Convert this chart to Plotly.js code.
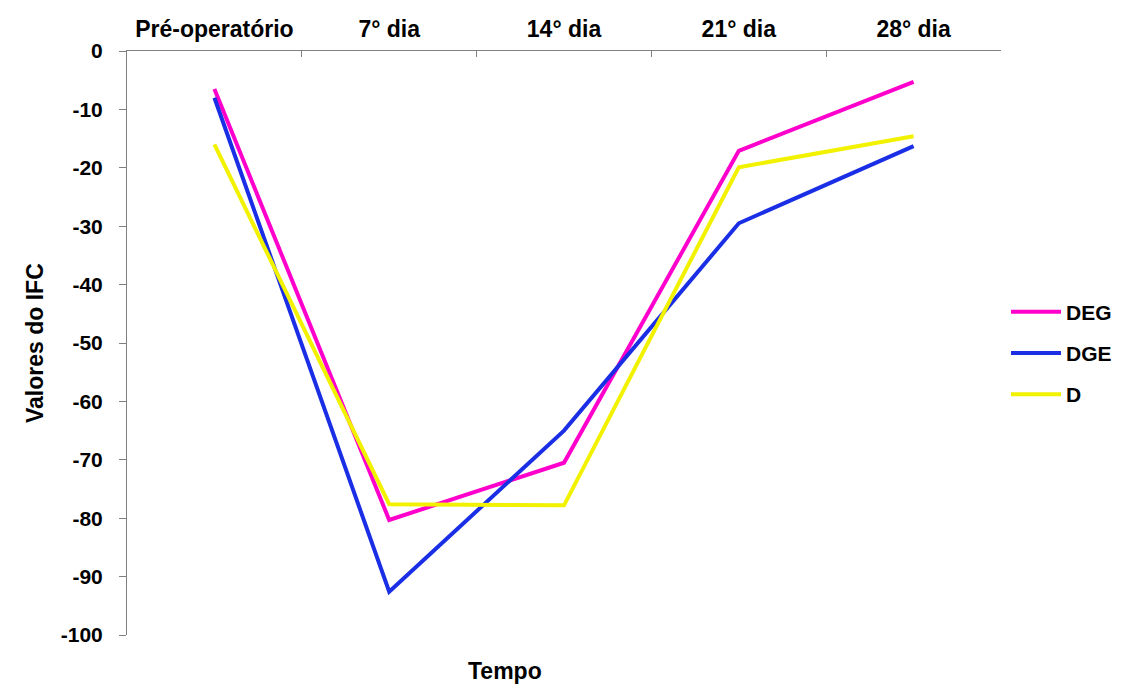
<!DOCTYPE html>
<html>
<head>
<meta charset="utf-8">
<script src="https://cdn.plot.ly/plotly-3.0.1.min.js"></script>
<style>html,body{margin:0;padding:0;background:#fff;}#chart{width:1125px;height:688px;}</style>
</head>
<body>
<div id="chart"></div>
<script>
const categories = ["Pré-operatório", "7° dia", "14° dia", "21° dia", "28° dia"];
const DEG = [-6.5, -80.3, -70.5, -17.1, -5.3];
const DGE = [-8.0, -92.6, -65.0, -29.5, -16.3];
const D = [-16.0, -77.6, -77.8, -19.9, -14.6];
const seriesNames = ["DEG", "DGE", "D"];
const yTicks = [0, -10, -20, -30, -40, -50, -60, -70, -80, -90, -100];
const yTickLabels = ["0", "-10", "-20", "-30", "-40", "-50", "-60", "-70", "-80", "-90", "-100"];

const narrow = "Liberation Sans Narrow, Arial Narrow, Liberation Sans, Arial, sans-serif";
const colors = ["#ff00cc", "#1a2ee6", "#f2f200"];
const series = [DEG, DGE, D];

const traces = series.map((vals, i) => ({
  type: "scatter",
  mode: "lines",
  x: categories,
  y: vals,
  name: seriesNames[i],
  legendgroup: seriesNames[i],
  line: {color: colors[i], width: 4}
}));

const layout = {
  width: 1125,
  height: 688,
  margin: {l: 127, r: 124, t: 51, b: 53},
  paper_bgcolor: "#ffffff",
  plot_bgcolor: "#ffffff",
  showlegend: true,
  legend: {
    xref: "container", yref: "container",
    x: 1006 / 1125, y: 1 - 353 / 688, xanchor: "left", yanchor: "middle",
    font: {family: narrow, size: 21, color: "#000", weight: "bold"},
    traceorder: "grouped",
    tracegroupgap: 11,
    itemwidth: 50,
    bgcolor: "rgba(0,0,0,0)"
  },
  xaxis: {
    type: "category",
    side: "top",
    showline: true,
    linecolor: "#808080",
    linewidth: 1,
    showgrid: false,
    zeroline: false,
    ticks: "inside",
    tickson: "boundaries",
    ticklen: 6,
    tickcolor: "#808080",
    ticklabelstandoff: 4,
    tickfont: {family: narrow, size: 23, color: "#000", weight: "bold"},
    range: [-0.5, 4.5]
  },
  yaxis: {
    range: [-100, 0],
    tickvals: yTicks,
    ticktext: yTickLabels,
    showline: true,
    linecolor: "#808080",
    linewidth: 1,
    showgrid: false,
    zeroline: false,
    ticks: "outside",
    ticklen: 7,
    tickcolor: "#808080",
    ticklabelstandoff: 12,
    tickfont: {family: "Liberation Sans, Arial, sans-serif", size: 21, color: "#000", weight: "bold"}
  },
  annotations: [
    {
      text: "Tempo", xref: "paper", yref: "paper",
      x: (505 - 127) / 874, y: -0.062, xanchor: "center", yanchor: "middle",
      showarrow: false,
      font: {family: narrow, size: 23, color: "#000", weight: "bold"}
    },
    {
      text: "Valores do IFC", xref: "paper", yref: "paper",
      x: (35 - 127) / 874, y: 0.5, xanchor: "center", yanchor: "middle",
      textangle: -90, showarrow: false,
      font: {family: narrow, size: 23, color: "#000", weight: "bold"}
    }
  ]
};

Plotly.newPlot("chart", traces, layout, {displayModeBar: false, staticPlot: true});
</script>
</body>
</html>
